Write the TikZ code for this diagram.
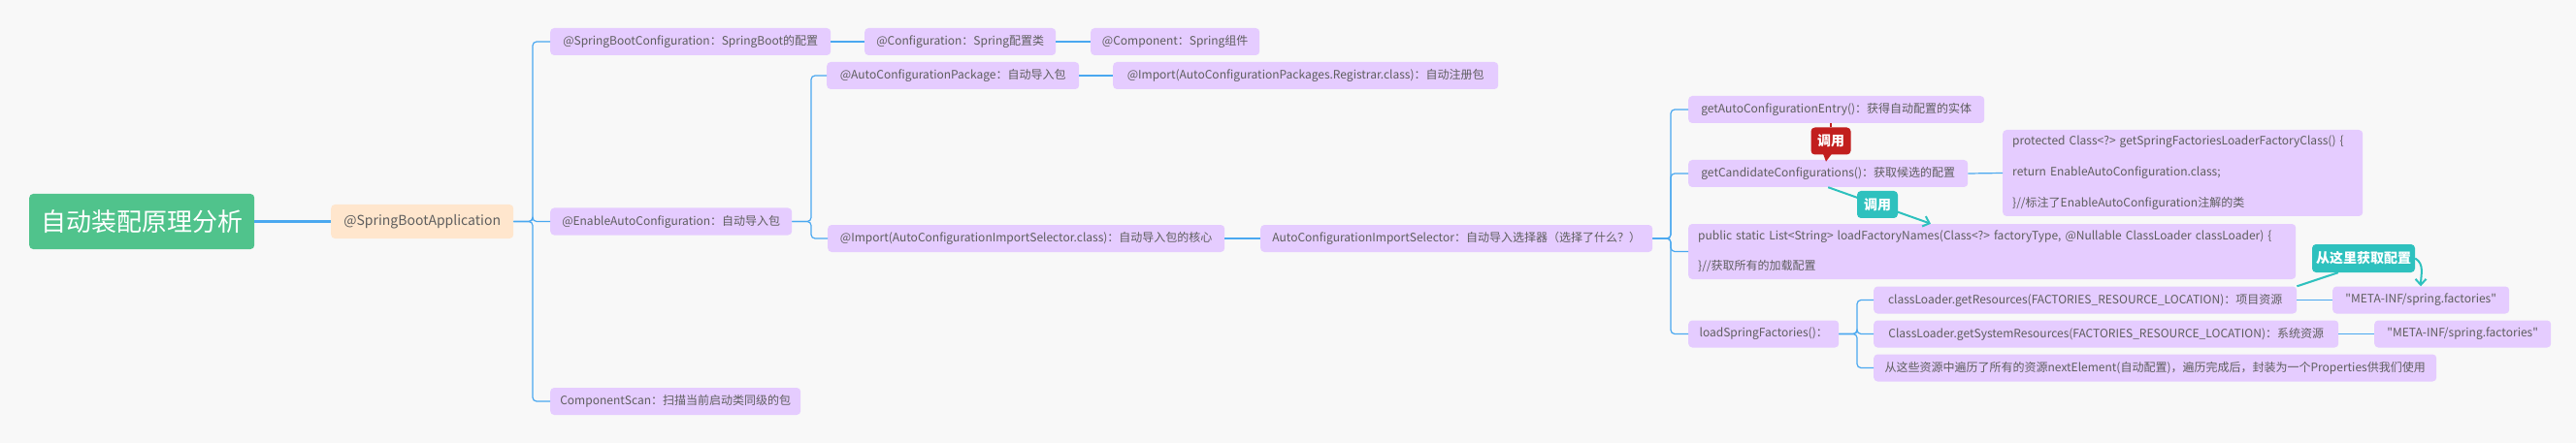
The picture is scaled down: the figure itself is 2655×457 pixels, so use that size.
\documentclass[tikz,border=0pt]{standalone}
\usepackage{fontspec}
\newfontfamily\mapfont{Noto Sans CJK SC}
\usetikzlibrary{calc,arrows.meta}
\definecolor{bgcol}{HTML}{F8F8F8}
\definecolor{rootgreen}{HTML}{50C38C}
\definecolor{peach}{HTML}{FFE6CD}
\definecolor{lav}{HTML}{E5CCFF}
\definecolor{linkblue}{HTML}{4AA8F0}
\definecolor{txtgrey}{HTML}{5E5E5E}
\definecolor{calred}{HTML}{C21F1E}
\definecolor{calteal}{HTML}{2EC1BE}
\tikzset{
  topic/.style={anchor=west, fill=lav, rounded corners=4pt, text=txtgrey,
    font=\mapfont\fontsize{12}{15}\selectfont, minimum height=28pt, inner sep=0pt},
  codebox/.style={topic, inner xsep=10pt, inner ysep=0pt, align=left},
  link/.style={draw=linkblue, line width=1.2pt, rounded corners=4pt},
  callout/.style={rounded corners=4pt, text=white, inner sep=0pt,
    font=\mapfont\fontsize{14}{16}\selectfont\bfseries, minimum height=28pt},
  callarrow/.style={-{Straight Barb[length=6pt,width=11pt]}, line width=2pt}
}
\begin{document}
\begin{tikzpicture}[x=1pt,y=-1pt]
  \fill[bgcol] (0,0) rectangle (2655,457);
  \useasboundingbox (0,0) rectangle (2655,457);

  \coordinate (bar1) at (549,0);
  \coordinate (bar2) at (836,0);
  \coordinate (bar3) at (1722,0);
  \coordinate (bar4) at (1914,0);

  \node[anchor=west, fill=rootgreen, rounded corners=4pt, text=white, inner sep=0pt,
    minimum width=232pt, minimum height=57pt, font=\mapfont\fontsize{26}{30}\selectfont]
    (root) at (30,228.5) {自动装配原理分析};
  \node[topic, fill=peach, minimum width=188pt, minimum height=35pt,
    font=\mapfont\fontsize{14}{17}\selectfont] (app) at (341,228.5) {@SpringBootApplication};

  \node[topic, minimum width=289pt] (sbc) at (567,43) {@SpringBootConfiguration：SpringBoot的配置};
  \node[topic, minimum width=197pt] (cfg) at (891,43) {@Configuration：Spring配置类};
  \node[topic, minimum width=174pt] (comp) at (1124,43) {@Component：Spring组件};
  \node[topic, minimum width=249pt] (enable) at (567,228.5) {@EnableAutoConfiguration：自动导入包};
  \node[topic, minimum width=258pt] (scan) at (567,414) {ComponentScan：扫描当前启动类同级的包};

  \node[topic, minimum width=260pt] (acp) at (852,78) {@AutoConfigurationPackage：自动导入包};
  \node[topic, minimum width=397pt] (reg) at (1147,78) {@Import(AutoConfigurationPackages.Registrar.class)：自动注册包};
  \node[topic, minimum width=409pt] (imp) at (853,246) {@Import(AutoConfigurationImportSelector.class)：自动导入包的核心};
  \node[topic, minimum width=404pt] (sel) at (1299,246) {AutoConfigurationImportSelector：自动导入选择器（选择了什么？）};

  \node[topic, minimum width=305pt] (entry) at (1740,113) {getAutoConfigurationEntry()：获得自动配置的实体};
  \node[topic, minimum width=288pt] (cand) at (1740,179) {getCandidateConfigurations()：获取候选的配置};
  \node[codebox, text width=351pt, minimum height=89pt, font=\mapfont\fontsize{12}{32}\selectfont]
    (prot) at (2064,178.5) {protected Class<?> getSpringFactoriesLoaderFactoryClass() \{\\return EnableAutoConfiguration.class;\\\}//标注了EnableAutoConfiguration注解的类};
  \node[codebox, text width=606pt, minimum height=57pt, font=\mapfont\fontsize{12}{31}\selectfont]
    (lfn) at (1740,259.5) {public static List<String> loadFactoryNames(Class<?> factoryType, @Nullable ClassLoader classLoader) \{\\\}//获取所有的加载配置};
  \node[topic, minimum width=155pt] (lsf) at (1740,344.5) {loadSpringFactories()：};

  \node[topic, minimum width=436pt] (res) at (1931,309.5) {classLoader.getResources(FACTORIES\_RESOURCE\_LOCATION)：项目资源};
  \node[topic, minimum width=479pt] (sys) at (1931,344.5) {ClassLoader.getSystemResources(FACTORIES\_RESOURCE\_LOCATION)：系统资源};
  \node[topic, minimum width=580pt] (elem) at (1931,379.5) {从这些资源中遍历了所有的资源nextElement(自动配置)，遍历完成后，封装为一个Properties供我们使用};
  \node[topic, minimum width=182pt] (meta1) at (2404,309.5) {"META-INF/spring.factories"};
  \node[topic, minimum width=182pt] (meta2) at (2447,344.5) {"META-INF/spring.factories"};

  \draw[draw=linkblue, line width=2.5pt] (root.east) -- (app.west);
  \foreach \kid in {sbc,enable,scan}
    \draw[link] (app.east) -- (app.east -| bar1) |- (\kid.west);
  \foreach \kid in {acp,imp}
    \draw[link] (enable.east) -- (enable.east -| bar2) |- (\kid.west);
  \foreach \kid in {entry,cand,lfn,lsf}
    \draw[link] (sel.east) -- (sel.east -| bar3) |- (\kid.west);
  \foreach \kid in {res,sys,elem}
    \draw[link] (lsf.east) -- (lsf.east -| bar4) |- (\kid.west);
  \draw[link] (sbc.east) -- (cfg.west);
  \draw[link] (cfg.east) -- (comp.west);
  \draw[link] (acp.east) -- (reg.west);
  \draw[link] (imp.east) -- (sel.west);
  \draw[link] (cand.east) -- (prot.west);
  \draw[link] (res.east) -- (meta1.west);
  \draw[link] (sys.east) -- (meta2.west);

  \node[callout, fill=calred, minimum width=41pt] (call1) at (1887,145.5) {调用};
  \draw[calred, line width=1.2pt] (call1.north) -- (call1.north |- entry.south);
  \fill[calred] ($(call1.south)+(-8,-1)$) -- ($(call1.south)+(-5,7)$) -- ($(call1.south)+(1,-1)$) -- cycle;

  \coordinate (lfntop) at ($(lfn.north west)+(250,0)$);
  \draw[calteal, callarrow] (cand.south) -- (lfntop);
  \node[callout, fill=calteal, minimum width=42pt] (call2) at (1935,211) {调用};

  \node[callout, fill=calteal, minimum width=106pt, minimum height=29pt] (call3) at (2436,266.5) {从这里获取配置};
  \draw[calteal, line width=2pt] (res.north east) -- ($(call3.south west)+(27,0)$);
  \draw[calteal, callarrow] (call3.east) to[out=-30,in=90] ($(meta1.north west)+(91,0)$);
\end{tikzpicture}
\end{document}
